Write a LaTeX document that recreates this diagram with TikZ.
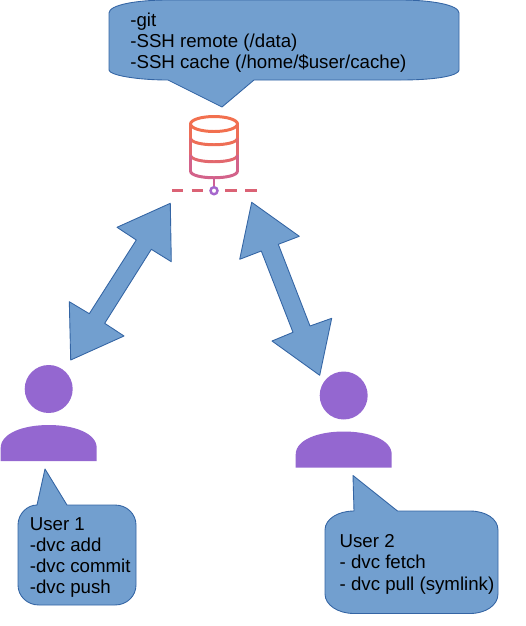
\documentclass[tikz,border=0pt]{standalone}
\usepackage{fontspec}
\setmainfont{Liberation Sans}
\usetikzlibrary{positioning,calc}

\definecolor{calloutblue}{HTML}{729FCF}
\definecolor{calloutedge}{HTML}{3465A4}
\definecolor{userpurple}{HTML}{9467D0}
\definecolor{dbtop}{HTML}{F2704F}
\definecolor{dbbottom}{HTML}{CE5F95}
\definecolor{dbdot}{HTML}{A566CC}
\definecolor{dbdash}{HTML}{DB6275}

\begin{document}
\begin{tikzpicture}[
  x=0.02cm, y=-0.02cm,
  blueshape/.style={fill=calloutblue, draw=calloutedge, line width=0.5pt, line join=round},
  callouttext/.style={anchor=north west, align=left, inner sep=0pt, text=black,
    font=\fontsize{10.63}{12}\selectfont},
  userhead/.style={circle, fill=userpurple, minimum size=0.96cm, inner sep=0pt},
  userbody/.style={fill=userpurple},
  dbline/.style={line width=1.7pt, line join=round}
]

\useasboundingbox (0,0) rectangle (525,626);

% One user: head and shoulders.
\newcommand{\userfigure}[3]{%
  % #1 name  #2 x of centre  #3 y of head centre
  \node[userhead] (head#1) at (#2,#3) {};
  \fill[userbody] (#2-48,#3+72) -- (#2-48,#3+59)
    .. controls (#2-48,#3+44) and (#2-25,#3+36) .. (#2,#3+36)
    .. controls (#2+25,#3+36) and (#2+48,#3+44) .. (#2+48,#3+59)
    -- (#2+48,#3+72) -- cycle;
}

% One band of the cylinder: sides and lower curve.
\newcommand{\dbband}[3]{%
  % #1 y start  #2 y end  #3 mix of top colour
  \draw[dbline, dbtop!#3!dbbottom] (190.5,#1) -- (190.5,#2)
    .. controls (190.5,#2+9) and (237.5,#2+9) .. (237.5,#2) -- (237.5,#1);
}

% top callout
\draw[blueshape] (109,13) .. controls (109,5) and (136,0) .. (168,0)
  -- (400,0) .. controls (432,0) and (459,5) .. (459,13)
  -- (459,70) .. controls (459,75) and (440,80) .. (400,80)
  -- (254,80) -- (222,107) -- (168,80)
  .. controls (136,80) and (109,75) .. (109,70) -- cycle;
\node[callouttext] (servertext) at (130,12.5)
  {-git\\-SSH remote (/data)\\-SSH cache (/home/\$user/cache)};

% database
\draw[dbline, dbtop] (214,124) ellipse [x radius=23.5, y radius=7.5];
\dbband{124}{138}{90}
\dbband{138}{155}{55}
\dbband{155}{171}{15}
\draw[dbline, dbbottom] (214,178) -- (214,187);
\draw[line width=1.7pt, dbdash] (172,190.5) -- (183,190.5) (191.5,190.5) -- (203,190.5)
  (225,190.5) -- (236.5,190.5) (245,190.5) -- (256.5,190.5);
\node[circle, draw=dbdot, fill=white, line width=1.4pt, minimum size=0.14cm, inner sep=0pt]
  (dbport) at (214,190.7) {};

% arrows to the users
\draw[blueshape] (170.3,203.3) -- (117,227.3) -- (136.3,240) -- (89.3,313.7) -- (69.3,301.7)
  -- (70.7,360) -- (124,336) -- (104.7,323.3) -- (151.3,249.3) -- (171.3,261.7) -- cycle;
\draw[blueshape] (251.7,202.3) -- (299.3,236.3) -- (278.3,244.3) -- (310,326) -- (331.7,318.3)
  -- (319.7,375.3) -- (272,341) -- (293,332.3) -- (261.3,251) -- (239.7,259.3) -- cycle;

% users
\userfigure{one}{48.7}{389}
\userfigure{two}{343.7}{395.5}

% user 1 callout
\draw[blueshape] (37,505) -- (45,469) -- (67,505) -- (115,505)
  .. controls (127,505) and (136,514) .. (136,525) -- (136,585)
  .. controls (136,596) and (127,605) .. (115,605) -- (39,605)
  .. controls (27,605) and (18,596) .. (18,585) -- (18,525)
  .. controls (18,514) and (27,505) .. (37,505) -- cycle;
\node[callouttext] (usertextone) at (29.5,517)
  {User 1\\-dvc add\\-dvc commit\\-dvc push};

% user 2 callout
\draw[blueshape] (354,511) -- (353,475.5) -- (397.5,511) -- (470,511)
  .. controls (486,511) and (498,519) .. (498,530) -- (498,594)
  .. controls (498,605) and (486,613.5) .. (470,613.5) -- (354,613.5)
  .. controls (338,613.5) and (325,605) .. (325,594) -- (325,530)
  .. controls (325,519) and (338,511) .. (354,511) -- cycle;
\node[callouttext] (usertexttwo) at (339.3,534.5)
  {User 2\\- dvc fetch\\- dvc pull (symlink)};

\end{tikzpicture}
\end{document}
